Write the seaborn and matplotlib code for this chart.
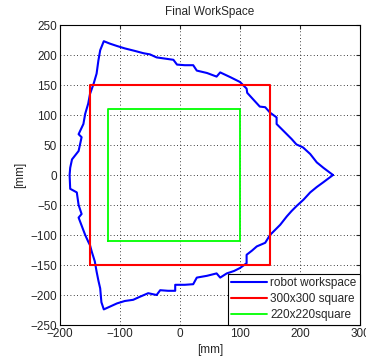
import matplotlib
matplotlib.use("Agg")
import matplotlib.pyplot as plt
import seaborn as sns
import pandas as pd

# Workspace boundary (closed loop)
ws_x = [255, 247, 239, 228, 217, 205, 194, 186, 178, 170, 161, 161, 150, 142, 133, 122, 112, 111, 100, 84, 67, 61, 45, 28, 22, 8, -5, -11, -25,
        -39, -50, -61, -76, -92, -105, -117, -127,
        -133, -136, -139, -144, -150, -153, -158, -161, -169, -164, -169, -180, -183, -184,
        -183, -172, -169, -164, -169, -158, -153, -150, -147, -142, -139, -136, -133, -131, -127,
        -116, -105, -92, -78, -67, -53, -39, -33, -20, -8, -8, 8, 22, 28, 45, 61, 67, 78, 90, 100, 111, 111, 120, 128, 142, 150,
        158, 167, 178, 186, 194, 206, 217, 228, 239, 247, 255]
ws_y = [0, 6, 12, 21, 35, 46, 51, 60, 68, 76, 85, 96, 104, 113, 114, 126, 137, 144, 155, 163, 171, 164, 170, 174, 183, 183, 184, 192, 194,
        196, 201, 203, 207, 211, 215, 219, 223,
        208, 191, 169, 152, 135, 119, 102, 85, 68, 63, 40, 26, 12, 0,
        -23, -29, -50, -65, -71, -100, -111, -117, -128, -144, -161, -176, -189, -212, -224,
        -219, -214, -210, -208, -203, -197, -200, -192, -193, -193, -183, -183, -182, -171, -168, -164, -171, -164, -160, -155, -147, -133, -126, -119, -113, -100,
        -92, -83, -69, -60, -52, -41, -29, -20, -12, -6, 0]

# Squares
sq300_x = [-150, 150, 150, -150, -150]
sq300_y = [-150, -150, 150, 150, -150]
sq220_x = [-120, 100, 100, -120, -120]
sq220_y = [-110, -110, 110, 110, -110]

x_ticks = [-200, -100, 0, 100, 200, 300]
y_ticks = [-250, -200, -150, -100, -50, 0, 50, 100, 150, 200, 250]
labels = ["robot workspace", "300x300 square", "220x220square"]
colors = ["#0000ff", "#ff0000", "#00ff00"]

sns.set_style("white")
plt.rcParams["font.family"] = ["Liberation Sans", "DejaVu Sans"]

fig = plt.figure(figsize=(3.66, 3.58), dpi=100)
ax = fig.add_axes([60 / 366, 1 - 325 / 358, 300 / 366, 300 / 358])

series = [(ws_x, ws_y), (sq300_x, sq300_y), (sq220_x, sq220_y)]
widths = [1.5, 1.5, 1.3]
for (xs, ys), lab, c, lw in zip(series, labels, colors, widths):
    df = pd.DataFrame({"x": xs, "y": ys})
    sns.lineplot(data=df, x="x", y="y", sort=False, estimator=None, ax=ax,
                 color=c, linewidth=lw, label=lab)

ax.set_xlim(-200, 300)
ax.set_ylim(-250, 250)
ax.set_xticks(x_ticks)
ax.set_yticks(y_ticks)
ax.tick_params(direction="in", length=3, labelsize=8.5, top=True, right=True, pad=2)
ax.grid(True, color="black", linestyle=(0, (1, 3)), linewidth=0.6)
for s in ax.spines.values():
    s.set_color("black")
    s.set_linewidth(0.8)
ax.set_xlabel("[mm]", fontsize=8.5, labelpad=3)
ax.set_ylabel("[mm]", fontsize=8.5, labelpad=3)
ax.set_title("Final WorkSpace", fontsize=8.5, pad=7)

leg = ax.legend(loc="lower right", borderaxespad=0, fontsize=8.5, fancybox=False,
                framealpha=1, edgecolor="black", handlelength=3.0, labelspacing=0.35,
                borderpad=0.3, handletextpad=0.3)
leg.get_frame().set_linewidth(0.8)

fig.savefig("out.png", dpi=100, facecolor="white")
